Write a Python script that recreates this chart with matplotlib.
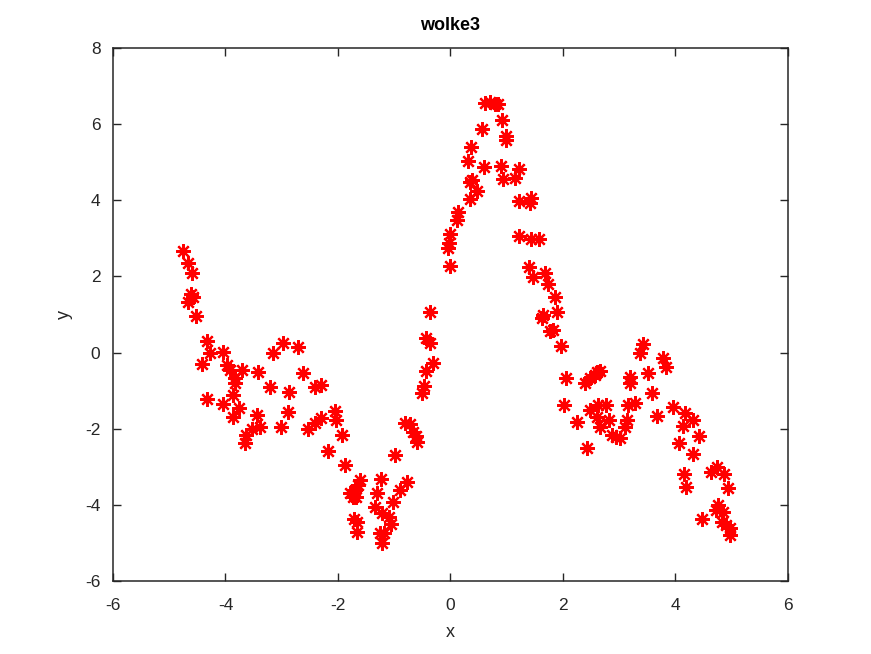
import matplotlib.pyplot as plt

plt.rcParams['font.family'] = ['Liberation Sans', 'DejaVu Sans']
plt.rcParams['axes.unicode_minus'] = False

# points
x = [-4.76, -4.66, -4.60, -4.57, -4.61, -4.66, -4.52, -4.33, -4.28, -4.41,
     -4.05, -3.98, -3.92, -3.71, -3.83, -3.83, -4.32, -4.04, -3.87, -3.76,
     -3.86, -3.42, -3.21, -2.87, -3.15, -2.97, -2.71, -2.63, -2.41, -2.30,
     -2.89, -3.44, -3.53, -3.64, -3.65, -3.39, -3.02, -2.53, -2.41, -2.30,
     -2.05, -2.04, -1.93, -2.18, -1.88,
     -1.61, -1.70, -1.73, -1.64, -1.79, -1.68, -1.24, -1.31, -0.78, -0.90,
     -1.02, -1.34, -1.22, -1.09, -1.05, -1.67, -1.67, -1.72, -1.25, -1.22,
     -1.18, -0.99, -0.81, -0.66, -0.60, -0.72, -0.61,
     -0.50, -0.47, -0.44, -0.31, -0.44, -0.36, -0.36,
     0.00, -0.04, -0.02, 0.00, 0.12, 0.14, 0.35, 0.47, 0.35, 0.38,
     0.32, 0.60, 0.89, 1.21, 0.94, 1.15, 0.36, 0.56, 0.61, 0.79,
     0.70, 0.84, 0.91, 0.99, 0.99, 1.22, 1.41, 1.43,
     1.22, 1.44, 1.58, 1.40, 1.47, 1.68, 1.74, 1.86, 1.64, 1.63,
     1.89, 1.77, 1.82, 1.96,
     2.05, 2.39, 2.57, 2.60, 2.48, 2.66, 2.01, 2.25, 2.43, 2.48,
     2.63, 2.76, 2.60, 2.81, 2.66, 2.87, 3.01, 2.94,
     3.16, 3.28, 3.13, 3.10, 3.19, 3.19, 3.42, 3.37, 3.52, 3.58,
     3.67, 3.78, 3.83,
     3.96, 4.17, 4.32, 4.13, 4.41, 4.07, 4.31, 4.63, 4.74, 4.86,
     4.94, 4.15, 4.19, 4.76, 4.85, 4.47, 4.82, 4.97, 4.97, 4.72, 4.90]
y = [2.68, 2.36, 2.08, 1.47, 1.54, 1.34, 0.96, 0.31, -0.02, -0.30,
     0.02, -0.33, -0.46, -0.46, -0.68, -0.81, -1.23, -1.35, -1.11, -1.46,
     -1.68, -0.50, -0.90, -1.03, -0.02, 0.24, 0.15, -0.54, -0.90, -0.85,
     -1.55, -1.64, -2.02, -2.17, -2.38, -1.95, -1.95, -2.02, -1.86, -1.71,
     -1.53, -1.77, -2.17, -2.58, -2.95,
     -3.35, -3.61, -3.79, -3.48, -3.69, -3.79, -3.32, -3.70, -3.39, -3.61,
     -3.92, -4.05, -4.22, -4.31, -4.49, -4.44, -4.71, -4.37, -4.75, -5.01,
     -4.74, -2.69, -1.86, -2.08, -2.34, -1.88, -2.19,
     -1.07, -0.88, -0.48, -0.27, 0.37, 0.24, 1.07,
     2.27, 2.74, 2.87, 3.11, 3.48, 3.70, 4.03, 4.24, 4.49, 4.53,
     5.03, 4.87, 4.90, 4.81, 4.55, 4.58, 5.41, 5.86, 6.56, 6.53,
     6.58, 6.53, 6.11, 5.58, 5.69, 3.99, 3.92, 4.06,
     3.06, 2.98, 2.98, 2.24, 1.99, 2.08, 1.80, 1.47, 0.99, 0.91,
     1.07, 0.57, 0.59, 0.17,
     -0.68, -0.79, -0.59, -0.50, -0.67, -0.48, -1.38, -1.83, -2.50, -1.51,
     -1.38, -1.38, -1.68, -1.77, -1.95, -2.17, -2.25, -2.22,
     -1.38, -1.33, -1.77, -1.95, -0.63, -0.81, 0.22, -0.02, -0.53, -1.07,
     -1.67, -0.15, -0.37,
     -1.44, -1.58, -1.77, -1.93, -2.19, -2.37, -2.66, -3.13, -3.00, -3.19,
     -3.57, -3.19, -3.54, -4.00, -4.18, -4.38, -4.44, -4.62, -4.79, -4.14, -4.53]

fig = plt.figure(figsize=(8.71, 6.54), dpi=100)
ax = fig.add_axes([0.1297, 0.1116, 0.775, 0.815])

ax.plot(x, y, linestyle='none', marker=(8, 2, 0), color='red',
        markersize=10.5, markeredgewidth=1.6)

ax.set_xlim(-6, 6)
ax.set_ylim(-6, 8)
ax.set_xticks(range(-6, 7, 2))
ax.set_yticks(range(-6, 9, 2))
ax.tick_params(direction='in', length=6, width=1, top=True, right=True,
               labelsize=12.5, colors='#262626')
ax.tick_params(axis='x', pad=12)
ax.tick_params(axis='y', pad=9)
for s in ax.spines.values():
    s.set_linewidth(1.1)
    s.set_color('#262626')

ax.set_title('wolke3', fontsize=13, fontweight='bold', pad=13)
ax.set_xlabel('x', fontsize=13, labelpad=8, color='#262626')
ax.set_ylabel('y', fontsize=13, labelpad=9, color='#262626')

fig.savefig('out.png', dpi=100)
